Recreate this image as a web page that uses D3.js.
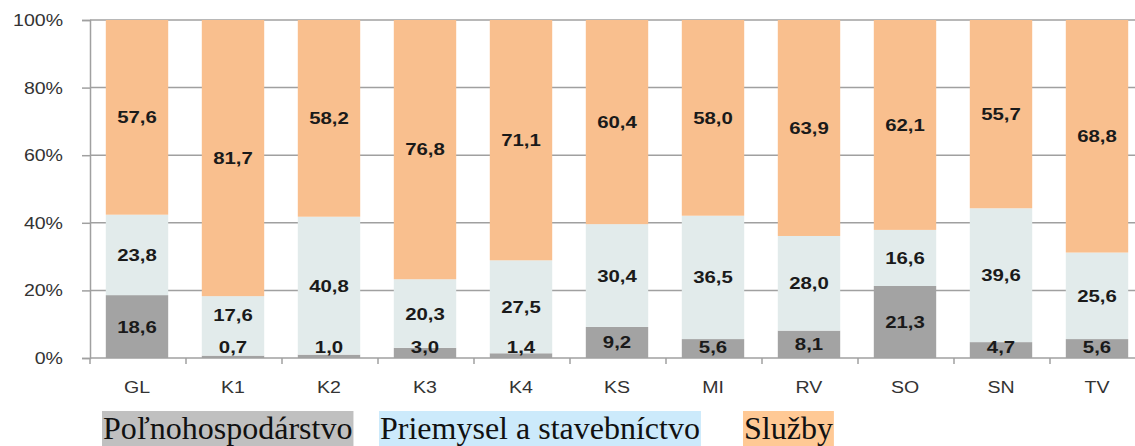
<!DOCTYPE html>
<html>
<head>
<meta charset="utf-8">
<script src="https://cdn.jsdelivr.net/npm/d3@7"></script>
<style>
  body { margin: 0; background: #fff; }
  svg { display: block; }
</style>
</head>
<body>
<div id="chart"></div>
<script>
// údaje z grafu (podiel v %)
const categories = ["GL", "K1", "K2", "K3", "K4", "KS", "MI", "RV", "SO", "SN", "TV"];
const polnohospodarstvo = [18.6, 0.7, 1.0, 3.0, 1.4, 9.2, 5.6, 8.1, 21.3, 4.7, 5.6];
const priemysel = [23.8, 17.6, 40.8, 20.3, 27.5, 30.4, 36.5, 28.0, 16.6, 39.6, 25.6];
const sluzby = [57.6, 81.7, 58.2, 76.8, 71.1, 60.4, 58.0, 63.9, 62.1, 55.7, 68.8];
const seriesNames = ["Poľnohospodárstvo", "Priemysel a stavebníctvo", "Služby"];
const yTicks = [0, 20, 40, 60, 80, 100];

const width = 1135, height = 446;
const barColors = ["#a3a3a3", "#e2ebeb", "#f9bf8e"];
const legendColors = ["#c0c0c0", "#cceafb", "#ffc995"];

const svg = d3.select("#chart").append("svg")
    .attr("width", width)
    .attr("height", height);

const x = d3.scaleBand()
    .domain(categories)
    .range([89, 1145])
    .paddingInner(0.35)
    .paddingOuter(0.175);

const y = d3.scaleLinear()
    .domain([0, 100])
    .range([358, 20]);

// mriežka
svg.append("g")
    .selectAll("line")
    .data(yTicks.filter(d => d > 0))
    .enter()
    .append("line")
    .attr("x1", 90)
    .attr("x2", width)
    .attr("y1", d => y(d))
    .attr("y2", d => y(d))
    .attr("stroke", "#a0a0a0")
    .attr("stroke-width", 1.5);

// stĺpce
const rows = categories.map((c, i) => ({
    cat: c,
    values: [polnohospodarstvo[i], priemysel[i], sluzby[i]]
}));

const segs = [];
rows.forEach(r => {
    let acc = 0;
    r.values.forEach((v, k) => {
        segs.push({ cat: r.cat, k, v, y0: acc, y1: acc + v });
        acc += v;
    });
});

svg.append("g")
    .selectAll("rect")
    .data(segs)
    .enter()
    .append("rect")
    .attr("x", d => x(d.cat))
    .attr("width", x.bandwidth())
    .attr("y", d => y(Math.min(d.y1, 100)))
    .attr("height", d => y(d.y0) - y(Math.min(d.y1, 100)))
    .attr("fill", d => barColors[d.k]);

// os y
svg.append("g")
    .attr("transform", "translate(90,0)")
    .call(d3.axisLeft(y).tickValues(yTicks).tickSize(8).tickFormat(d => d + "%"))
    .call(g => g.select(".domain").attr("stroke", "#a0a0a0").attr("stroke-width", 1.5))
    .call(g => g.selectAll(".tick line").attr("stroke", "#a0a0a0").attr("stroke-width", 1.5))
    .call(g => g.selectAll(".tick text")
        .attr("font-family", "Liberation Sans, Arial, sans-serif")
        .attr("font-size", 17)
        .attr("fill", "#333")
        .attr("x", -23.5)
        .attr("transform", "scale(1.15,1)")
        .attr("text-anchor", "end"));

// os x
const xAxis = svg.append("g");
xAxis.append("line")
    .attr("x1", 90).attr("x2", width)
    .attr("y1", y(0)).attr("y2", y(0))
    .attr("stroke", "#a0a0a0").attr("stroke-width", 1.5);
xAxis.selectAll(".sep")
    .data(categories)
    .enter()
    .append("line")
    .attr("x1", d => x(d) - x.step() * x.paddingInner() / 2 + 1)
    .attr("x2", d => x(d) - x.step() * x.paddingInner() / 2 + 1)
    .attr("y1", y(0)).attr("y2", y(0) + 6)
    .attr("stroke", "#a0a0a0").attr("stroke-width", 1.5);
xAxis.selectAll(".lbl")
    .data(categories)
    .enter()
    .append("text")
    .attr("transform", d => `translate(${x(d) + x.bandwidth() / 2},393) scale(1.15,1)`)
    .attr("text-anchor", "middle")
    .attr("font-family", "Liberation Sans, Arial, sans-serif")
    .attr("font-size", 17)
    .attr("fill", "#333")
    .text(d => d);

// popisky hodnôt
const fmt = v => v.toFixed(1).replace(".", ",");
const labels = segs.map(d => ({ ...d, ly: Math.min(y((d.y0 + d.y1) / 2), 347) }));
// posun nahor ak sa prekrýva s popiskom pod ním
labels.forEach(d => {
    if (d.k === 1) {
        const below = labels.find(e => e.cat === d.cat && e.k === 0);
        if (below.ly - d.ly < 32) d.ly = below.ly - 32;
    }
});

svg.append("g")
    .selectAll("text")
    .data(labels)
    .enter()
    .append("text")
    .attr("transform", d => `translate(${x(d.cat) + x.bandwidth() / 2},${d.ly + 6}) scale(1.2,1)`)
    .attr("text-anchor", "middle")
    .attr("font-family", "Liberation Sans, Arial, sans-serif")
    .attr("font-weight", "bold")
    .attr("font-size", 17)
    .attr("fill", "#1a1a1a")
    .text(d => fmt(d.v));

// legenda
const legendX = [103, 380, 744];
const legend = svg.append("g");
seriesNames.forEach((name, i) => {
    const g = legend.append("g");
    const rect = g.append("rect")
        .attr("y", 411)
        .attr("height", 40)
        .attr("fill", legendColors[i]);
    const t = g.append("text")
        .attr("x", legendX[i])
        .attr("y", 439)
        .attr("font-family", "Liberation Serif, Times New Roman, serif")
        .attr("font-size", 32)
        .attr("fill", "#111")
        .text(name);
    const w = t.node().getComputedTextLength();
    rect.attr("x", legendX[i] - 1).attr("width", w + 2);
});
</script>
</body>
</html>
